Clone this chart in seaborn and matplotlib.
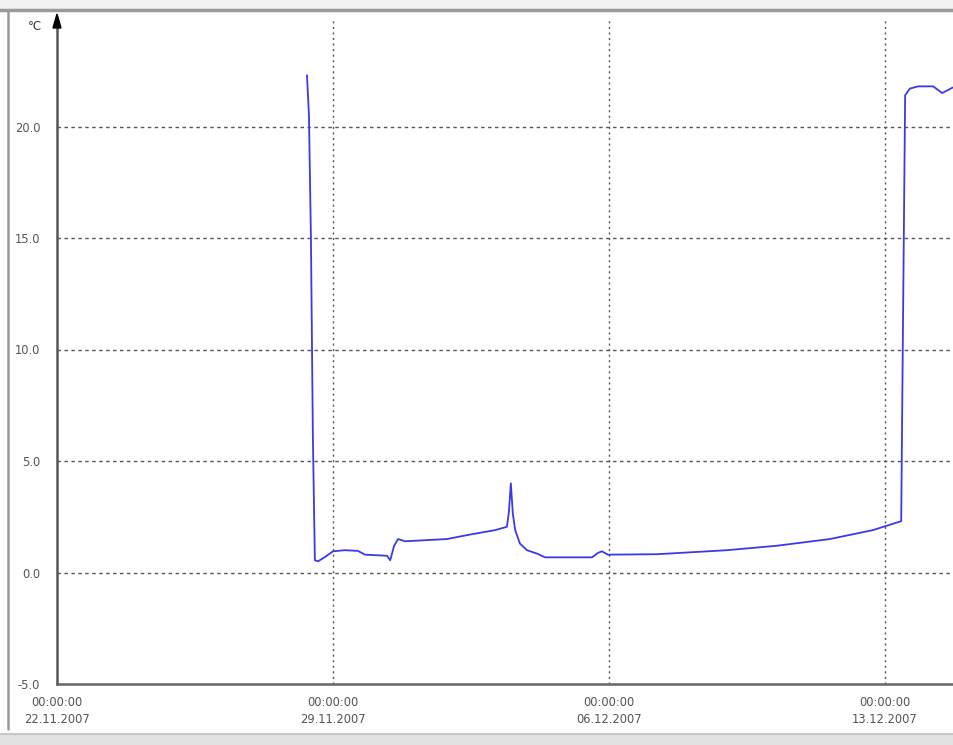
import numpy as np
import pandas as pd
import matplotlib
matplotlib.use("Agg")
import matplotlib.pyplot as plt
import matplotlib.dates as mdates
from matplotlib.lines import Line2D
from matplotlib.patches import Rectangle
import seaborn as sns

# ---- data (days since 22.11.2007 00:00, temperature in °C) ----
day_offsets = [6.34, 6.39, 6.44, 6.49, 6.54, 6.62, 6.80, 7.00, 7.30, 7.63, 7.81,
               8.37, 8.45, 8.55, 8.65, 8.83, 9.89, 10.47, 11.11, 11.41, 11.46,
               11.51, 11.56, 11.62, 11.74, 11.92, 12.17, 12.38, 13.57, 13.72,
               13.82, 13.97, 15.22, 16.99, 18.26, 19.60, 20.69, 21.41, 21.46,
               21.51, 21.63, 21.84, 22.22, 22.45, 22.72]
temperatures = [22.3, 20.5, 15.0, 6.0, 0.55, 0.5, 0.7, 0.95, 1.0, 0.97, 0.8,
                0.75, 0.55, 1.2, 1.5, 1.4, 1.5, 1.7, 1.9, 2.05, 2.7,
                4.0, 2.65, 1.9, 1.3, 1.0, 0.85, 0.68, 0.68, 0.88,
                0.95, 0.8, 0.82, 1.0, 1.2, 1.5, 1.9, 2.3, 12.0,
                21.4, 21.7, 21.8, 21.8, 21.5, 21.75]
x_tick_dates = ["2007-11-22", "2007-11-29", "2007-12-06", "2007-12-13"]
y_ticks = [-5.0, 0.0, 5.0, 10.0, 15.0, 20.0]
y_unit = "°C"

start = pd.Timestamp("2007-11-22")
df = pd.DataFrame({
    "time": [start + pd.Timedelta(days=d) for d in day_offsets],
    "temp": temperatures,
})

sns.set_style("white")
plt.rcParams["font.family"] = ["DejaVu Sans"]

W, H = 954, 745
fig = plt.figure(figsize=(W / 100, H / 100), dpi=100)
fig.patch.set_facecolor("white")

left_px, right_px, top_px, bot_px = 57, 954, 18, 684
ax = fig.add_axes([left_px / W, (H - bot_px) / H,
                   (right_px - left_px) / W, (bot_px - top_px) / H])
ax.set_facecolor("white")

sns.lineplot(data=df, x="time", y="temp", ax=ax, color="#3a3ae8",
             linewidth=1.3, estimator=None, sort=False)

xmin = mdates.date2num(start)
xmax = xmin + (right_px - left_px) / 39.43
ax.set_xlim(xmin, xmax)
ax.set_ylim(-5.0, -5.0 + (bot_px - top_px) / 22.3)

xt = [mdates.date2num(pd.Timestamp(d)) for d in x_tick_dates]
ax.set_xticks(xt)
ax.set_xticklabels([pd.Timestamp(d).strftime("00:00:00\n%d.%m.%Y") for d in x_tick_dates],
                   fontsize=8.3, color="#555555", linespacing=1.45)
ax.set_yticks(y_ticks)
ax.set_yticklabels([f"{v:.1f}" for v in y_ticks], fontsize=8.3, color="#555555")
ax.set_xlabel("")
ax.set_ylabel("")

ax.tick_params(axis="y", length=9, width=1.3, color="#555555", direction="out", pad=3)
ax.tick_params(axis="x", length=7, width=1.3, color="#555555", direction="inout", pad=5)

# grid
for v in y_ticks[1:]:
    ax.axhline(v, color="#555555", linewidth=1.0, linestyle=(0, (2.5, 2.5)), zorder=0)
for v in xt[1:]:
    ax.axvline(v, color="#555555", linewidth=1.0, linestyle=(0, (1.5, 2.5)), zorder=0)

for s in ["top", "right"]:
    ax.spines[s].set_visible(False)
ax.spines["left"].set_color("#555555")
ax.spines["left"].set_linewidth(1.8)
ax.spines["bottom"].set_color("#666666")
ax.spines["bottom"].set_linewidth(1.8)

# arrow on top of y axis
fig.patches.append(plt.Polygon([[(left_px - 4) / W, (H - 28) / H],
                                [(left_px + 4) / W, (H - 28) / H],
                                [left_px / W, (H - 14) / H]],
                               closed=True, color="black", transform=fig.transFigure))
fig.text(35 / W, (H - 27) / H, y_unit, fontsize=8.5, color="#333333",
         ha="center", va="center")

# window frame
fig.add_artist(Rectangle((0, (H - 9) / H), 1, 9 / H, color="#f2f2f2",
                         transform=fig.transFigure))
fig.add_artist(Line2D([0, 1], [(H - 10) / H] * 2, color="#9a9a9a", linewidth=2.5,
                      transform=fig.transFigure))
fig.add_artist(Line2D([8 / W] * 2, [(H - 10) / H, (H - 729) / H], color="#9a9a9a",
                      linewidth=1.8, transform=fig.transFigure))
fig.add_artist(Rectangle((0, 0), 1, (H - 734) / H, color="#e2e2e2",
                         transform=fig.transFigure))
fig.add_artist(Line2D([0, 1], [(H - 734) / H] * 2, color="#c8c8c8", linewidth=1.5,
                      transform=fig.transFigure))

fig.savefig("out.png", dpi=100)
